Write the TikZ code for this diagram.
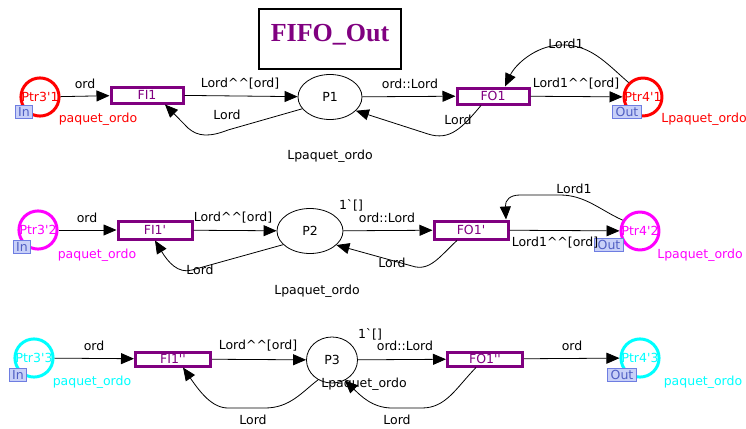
\documentclass[tikz,border=0pt]{standalone}
\usepackage{fontspec}
\setmainfont{DejaVu Sans}
\newfontfamily\titlefont{Liberation Serif}
\usetikzlibrary{arrows.meta,shapes.geometric}
\definecolor{cpnpurple}{RGB}{128,0,128}
\definecolor{cpnred}{RGB}{255,0,0}
\definecolor{cpnmagenta}{RGB}{255,0,255}
\definecolor{cpncyan}{RGB}{0,255,255}
\definecolor{portfill}{RGB}{200,208,248}
\definecolor{portdraw}{RGB}{110,125,225}
\definecolor{porttext}{RGB}{80,95,195}
\newcommand{\qs}{\textquotesingle}
\tikzset{
  every node/.style={font=\fontsize{12.5}{14}\selectfont},
  portplace/.style={circle, line width=3pt, minimum size=36pt, inner sep=0pt},
  trans/.style={rectangle, draw=cpnpurple, line width=3pt, text=cpnpurple, inner sep=0pt, minimum width=72pt, minimum height=16pt},
  plainplace/.style={ellipse, draw=black, line width=0.8pt, inner sep=0pt},
  tag/.style={rectangle, draw=portdraw, fill=portfill, text=porttext, line width=0.8pt, inner xsep=3pt, inner ysep=0.5pt, minimum height=13pt},
  lbl/.style={inner sep=0pt, text=black},
  arc/.style={draw=black, line width=0.8pt, -{Triangle[length=13pt,width=11pt]}},
}
\begin{document}
\begin{tikzpicture}[x=1pt,y=-1pt]
\useasboundingbox (0,0) rectangle (746,428);
% title
\node[draw=black, line width=2pt, minimum width=142pt, minimum height=60pt, inner sep=0pt] (title) at (330,39) {};
\node[text=cpnpurple, inner sep=0pt, font=\titlefont\bfseries\fontsize{26}{28}\selectfont] (titletext) at (330,35) {FIFO\_Out};

% ---------------- row 1 ----------------
\node[portplace, draw=cpnred, text=cpnred] (pa1) at (40,97) {Ptr3\qs1};
\node[tag] (in1) at (24,112) {In};
\node[lbl, text=cpnred] (pa1t) at (98,119) {paquet\_ordo};
\node[trans] (fi1) at (147,95) {FI1};
\node[plainplace, minimum width=64pt, minimum height=45pt] (p1) at (330,97) {P1};
\node[lbl] (p1t) at (330,156) {Lpaquet\_ordo};
\node[trans] (fo1) at (493,96) {FO1};
\node[portplace, draw=cpnred, text=cpnred] (pb1) at (643,97) {Ptr4\qs1};
\node[tag] (out1) at (627,112) {Out};
\node[lbl, text=cpnred] (pb1t) at (704,119) {Lpaquet\_ordo};

\draw[arc] (pa1) -- (fi1);
\node[lbl] (l1a) at (85,84) {ord};
\draw[arc] (fi1) -- (p1);
\node[lbl] (l1b) at (240,84) {Lord\^{}\^{}[ord]};
\draw[arc] (p1.203) -- (228,130) .. controls (210,137) and (198,137) .. (188,128) -- ([xshift=18pt]fi1.south);
\node[lbl] (l1c) at (227,115) {Lord};
\draw[arc] (p1) -- (fo1);
\node[lbl] (l1d) at (410,84) {ord::Lord};
\draw[arc] ([xshift=-12pt]fo1.south) .. controls (462,128) and (450,141) .. (428,134) -- (p1.-28);
\node[lbl] (l1e) at (458,120) {Lord};
\draw[arc] (fo1) -- (pb1);
\node[lbl] (l1f) at (576,84) {Lord1\^{}\^{}[ord]};
\draw[arc] (pb1.135) .. controls (605,62) and (590,44) .. (560,45) .. controls (535,46) and (515,65) .. ([xshift=12pt]fo1.north);
\node[lbl] (l1g) at (566,44) {Lord1};

% ---------------- row 2 ----------------
\node[portplace, draw=cpnmagenta, text=cpnmagenta] (pa2) at (38,230) {Ptr3\qs2};
\node[tag] (in2) at (22,247) {In};
\node[lbl, text=cpnmagenta] (pa2t) at (97,255) {paquet\_ordo};
\node[trans, minimum width=74pt, minimum height=18pt] (fi2) at (155,230) {FI1\qs};
\node[plainplace, minimum width=66pt, minimum height=45pt] (p2) at (310,231) {P2};
\node[lbl] (p2m) at (351,205) {1\textasciigrave[]};
\node[lbl] (p2t) at (317,291) {Lpaquet\_ordo};
\node[trans, minimum width=74pt, minimum height=18pt] (fo2) at (471,230) {FO1\qs};
\node[portplace, draw=cpnmagenta, text=cpnmagenta] (pb2) at (640,231) {Ptr4\qs2};
\node[tag] (out2) at (609,245) {Out};
\node[lbl, text=cpnmagenta] (pb2t) at (700,255) {Lpaquet\_ordo};

\draw[arc] (pa2) -- (fi2);
\node[lbl] (l2a) at (87,218) {ord};
\draw[arc] (fi2) -- (p2);
\node[lbl] (l2b) at (233,218) {Lord\^{}\^{}[ord]};
\draw[arc] (p2.207) -- (192,270) .. controls (178,274) and (168,262) .. (fi2.south);
\node[lbl] (l2c) at (200,270) {Lord};
\draw[arc] (p2) -- (fo2);
\node[lbl] (l2d) at (387,218) {ord::Lord};
\draw[arc] ([xshift=-14pt]fo2.south) .. controls (440,256) and (430,272) .. (412,266) -- (p2.-28);
\node[lbl] (l2e) at (392,263) {Lord};
\draw[arc] (fo2) -- (pb2);
\node[lbl] (l2f) at (555,243) {Lord1\^{}\^{}[ord]};
\draw[arc] (pb2.148) .. controls (600,210) and (585,195) .. (560,195) -- (520,195) .. controls (510,195) and (505,200) .. ([xshift=35pt]fo2.north);
\node[lbl] (l2g) at (574,189) {Lord1};

% ---------------- row 3 ----------------
\node[portplace, draw=cpncyan, text=cpncyan] (pa3) at (34,358) {Ptr3\qs3};
\node[tag] (in3) at (18,375) {In};
\node[lbl, text=cpncyan] (pa3t) at (92,382) {paquet\_ordo};
\node[trans, minimum width=75pt, minimum height=14pt] (fi3) at (173,359) {FI1\qs\qs};
\node[plainplace, minimum width=51pt, minimum height=46pt] (p3) at (332,360) {P3};
\node[lbl] (p3m) at (370,334) {1\textasciigrave[]};
\node[lbl] (p3t) at (364,384) {Lpaquet\_ordo};
\node[trans, minimum width=75pt, minimum height=14pt] (fo3) at (485,359) {FO1\qs\qs};
\node[portplace, draw=cpncyan, text=cpncyan] (pb3) at (640,358) {Ptr4\qs3};
\node[tag] (out3) at (622,375) {Out};
\node[lbl, text=cpncyan] (pb3t) at (703,382) {paquet\_ordo};

\draw[arc] (pa3) -- (fi3);
\node[lbl] (l3a) at (94,346) {ord};
\draw[arc] (fi3) -- (p3);
\node[lbl] (l3b) at (258,346) {Lord\^{}\^{}[ord]};
\draw[arc] (p3.235) .. controls (302,392) and (290,408) .. (265,408) -- (228,408) .. controls (212,408) and (200,392) .. ([xshift=10pt]fi3.south);
\node[lbl] (l3c) at (253,420) {Lord};
\draw[arc] (p3) -- (fo3);
\node[lbl] (l3d) at (405,346) {ord::Lord};
\draw[arc] ([xshift=-9pt]fo3.south) .. controls (456,388) and (446,408) .. (422,408) -- (392,408) .. controls (372,408) and (360,395) .. (p3.-58);
\node[lbl] (l3e) at (397,420) {Lord};
\draw[arc] (fo3) -- (pb3);
\node[lbl] (l3f) at (572,346) {ord};
\end{tikzpicture}
\end{document}
